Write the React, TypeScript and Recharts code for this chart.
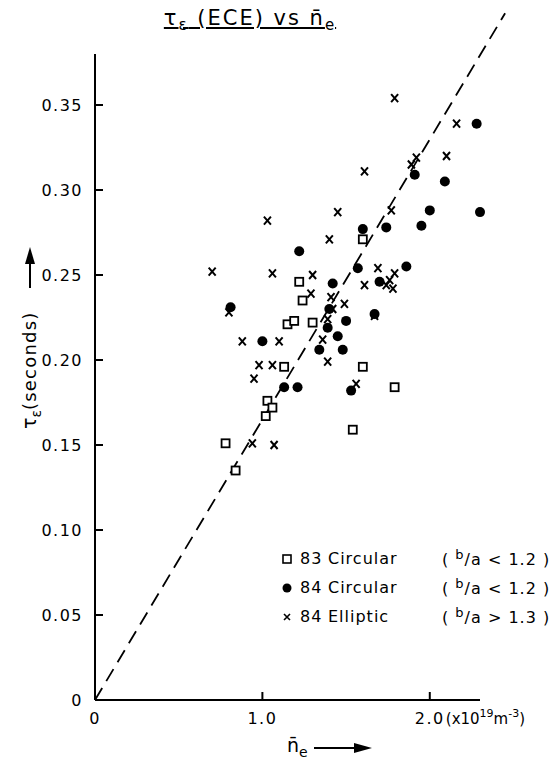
import React from 'react';
import { ScatterChart, Scatter, XAxis, YAxis, ReferenceLine, Legend } from 'recharts';

// axis ticks
const xTicks = [0, 1, 2];
const xTickLabels = ['0', '1.0', '2.0'];
const yTicks = [0, 0.05, 0.1, 0.15, 0.2, 0.25, 0.3, 0.35];
const yTickLabels = ['0', '0.05', '0.10', '0.15', '0.20', '0.25', '0.30', '0.35'];

// 83 Circular (b/a < 1.2)
const circ83N = [1.15, 1.19, 1.3, 1.22, 1.24, 1.6, 1.13, 1.6, 1.79, 1.03, 1.06, 1.02, 1.54, 0.78, 0.84];
const circ83Tau = [0.221, 0.223, 0.222, 0.246, 0.235, 0.271, 0.196, 0.196, 0.184, 0.176, 0.172, 0.167, 0.159, 0.151, 0.135];

// 84 Circular (b/a < 1.2)
const circ84N = [0.81, 1.0, 1.22, 1.57, 1.42, 1.4, 1.67, 1.5, 1.39, 1.45, 1.34, 1.48, 1.13, 1.21, 1.53, 1.6, 1.74, 1.95, 2.0, 2.3, 2.09, 1.91, 2.28, 1.86, 1.7];
const circ84Tau = [0.231, 0.211, 0.264, 0.254, 0.245, 0.23, 0.227, 0.223, 0.219, 0.214, 0.206, 0.206, 0.184, 0.184, 0.182, 0.277, 0.278, 0.279, 0.288, 0.287, 0.305, 0.309, 0.339, 0.255, 0.246];

// 84 Elliptic (b/a > 1.3)
const ell84N = [1.79, 2.16, 2.1, 1.92, 1.89, 1.61, 1.77, 1.45, 1.03, 1.4, 0.7, 1.06, 1.3, 1.69, 1.79, 1.76, 1.74, 1.78, 1.61, 1.29, 1.41, 1.49, 1.42, 0.8, 1.67, 1.39, 0.88, 1.1, 1.36, 1.39, 0.98, 1.06, 0.95, 1.56, 0.94, 1.07];
const ell84Tau = [0.354, 0.339, 0.32, 0.319, 0.315, 0.311, 0.288, 0.287, 0.282, 0.271, 0.252, 0.251, 0.25, 0.254, 0.251, 0.247, 0.244, 0.242, 0.244, 0.239, 0.237, 0.233, 0.23, 0.228, 0.226, 0.224, 0.211, 0.211, 0.212, 0.199, 0.197, 0.197, 0.189, 0.186, 0.151, 0.15];

// dashed guide line through the origin
const fitN = [0, 2.45];
const fitTau = [0, 0.404];

// legend text
const seriesCodes = ['83', '84', '84'];
const seriesNames = ['Circular', 'Circular', 'Elliptic'];
const seriesSigns = ['<', '<', '>'];
const seriesRatios = ['1.2', '1.2', '1.3'];

const zip = (n: number[], t: number[]) => n.map((v, i) => ({ n: v, t: t[i] }));

const FONT = '"DejaVu Sans", sans-serif';

const SquareMark = ({ cx, cy }: any) => (
  <rect x={cx - 4} y={cy - 4} width={8} height={8} fill="#fff" stroke="#000" strokeWidth={1.8} />
);
const DotMark = ({ cx, cy }: any) => <circle cx={cx} cy={cy} r={5} fill="#000" />;
const CrossMark = ({ cx, cy }: any) => (
  <path
    d={`M${cx - 3.5},${cy - 4}L${cx + 3.5},${cy + 4}M${cx + 3.5},${cy - 4}L${cx - 3.5},${cy + 4}`}
    stroke="#000"
    strokeWidth={2}
    fill="none"
  />
);

const YTick = ({ x, y, payload }: any) => {
  const i = yTicks.indexOf(payload.value);
  return (
    <g>
      {payload.value !== 0 && (
        <line x1={x + 10} x2={x + 18} y1={y} y2={y} stroke="#000" strokeWidth={2} />
      )}
      <text x={x - 2} y={y} dy={6} textAnchor="end" fontSize={16} letterSpacing={1.5} fill="#000" fontFamily={FONT}>
        {yTickLabels[i]}
      </text>
    </g>
  );
};

const XTick = ({ x, y, payload }: any) => {
  const i = xTicks.indexOf(payload.value);
  return (
    <g>
      {payload.value !== 0 && (
        <line x1={x} x2={x} y1={y - 10} y2={y - 18} stroke="#000" strokeWidth={2} />
      )}
      <text x={x} y={y} dy={14} textAnchor="middle" fontSize={16} letterSpacing={1.5} fill="#000" fontFamily={FONT}>
        {xTickLabels[i]}
      </text>
      {i === xTicks.length - 1 && (
        <text x={x + 16} y={y} dy={14} fontSize={15} fill="#000" fontFamily={FONT}>
          (x10
          <tspan dy={-7} fontSize={11}>19</tspan>
          <tspan dy={7}>m</tspan>
          <tspan dy={-7} fontSize={11}>-3</tspan>
          <tspan dy={7}>)</tspan>
        </text>
      )}
    </g>
  );
};

const YLabel = () => (
  <g transform="translate(30, 338) rotate(-90)" fontFamily={FONT}>
    <text x={-91} y={6} fontSize={19} fill="#000">
      τ<tspan fontSize={14} dy={5}>ε</tspan>
      <tspan dy={-5} fontSize={18} letterSpacing={1.2}>(seconds)</tspan>
    </text>
    <line x1={50} x2={76} y1={0} y2={0} stroke="#000" strokeWidth={2} />
    <polygon points="74,-5 91,0 74,5" fill="#000" />
  </g>
);

const XLabel = () => (
  <g fontFamily={FONT}>
    <text x={287} y={752} fontSize={19} fill="#000">
      n̄<tspan dy={5} fontSize={14}>e</tspan>
    </text>
    <line x1={314} x2={356} y1={748} y2={748} stroke="#000" strokeWidth={2} />
    <polygon points="354,743 372,748 354,753" fill="#000" />
  </g>
);

const legendMarks = [
  <rect key="s" x={6} y={3} width={8} height={8} fill="#fff" stroke="#000" strokeWidth={1.6} />,
  <circle key="c" cx={10} cy={7} r={4.5} fill="#000" />,
  <path key="x" d="M7,4L13,10M13,4L7,10" stroke="#000" strokeWidth={1.6} />,
];

const LegendBox = () => (
  <div style={{ fontFamily: FONT, fontSize: 16, letterSpacing: 1, color: '#000' }}>
    {seriesNames.map((name, i) => (
      <div key={i} style={{ display: 'flex', alignItems: 'center', height: 29 }}>
        <svg width={20} height={14}>{legendMarks[i]}</svg>
        <span style={{ width: 28, marginLeft: 3 }}>{seriesCodes[i]}</span>
        <span style={{ width: 114 }}>{name}</span>
        <span>
          ( <sup style={{ fontSize: 13 }}>b</sup>/a {seriesSigns[i]} {seriesRatios[i]} )
        </span>
      </div>
    ))}
  </div>
);

export default function App() {
  return (
    <div style={{ position: 'absolute', left: 0, top: 0, width: 551, height: 767, background: '#fff', fontFamily: FONT }}>
      <div
        style={{
          position: 'absolute',
          left: 0,
          top: 6,
          width: 500,
          textAlign: 'center',
          fontSize: 21,
          letterSpacing: 2,
          textDecoration: 'underline',
          zIndex: 2,
        }}
      >
        τ<sub style={{ fontSize: 15 }}>ε</sub> (ECE) vs n̄<sub style={{ fontSize: 15 }}>e</sub>
      </div>
      <ScatterChart width={551} height={767} margin={{ top: 54, right: 71, bottom: 27, left: 0 }}>
        <XAxis
          type="number"
          dataKey="n"
          domain={[0, 2.3]}
          ticks={xTicks}
          tick={<XTick />}
          tickSize={0}
          tickMargin={10}
          tickLine={false}
          axisLine={{ stroke: '#000', strokeWidth: 2 }}
          height={40}
          label={{ content: <XLabel /> }}
        />
        <YAxis
          type="number"
          dataKey="t"
          domain={[0, 0.38]}
          ticks={yTicks}
          tick={<YTick />}
          tickSize={0}
          tickMargin={10}
          tickLine={false}
          axisLine={{ stroke: '#000', strokeWidth: 2 }}
          width={95}
          label={{ content: <YLabel /> }}
        />
        <ReferenceLine
          segment={[
            { x: fitN[0], y: fitTau[0] },
            { x: fitN[1], y: fitTau[1] },
          ]}
          ifOverflow="visible"
          stroke="#000"
          strokeWidth={1.8}
          strokeDasharray="14 8"
        />
        <Scatter data={zip(ell84N, ell84Tau)} shape={<CrossMark />} isAnimationActive={false} />
        <Scatter data={zip(circ84N, circ84Tau)} shape={<DotMark />} isAnimationActive={false} />
        <Scatter data={zip(circ83N, circ83Tau)} shape={<SquareMark />} isAnimationActive={false} />
        <Legend
          layout="horizontal"
          verticalAlign="middle"
          align="center"
          content={<LegendBox />}
          wrapperStyle={{ left: 277, top: 544, width: 280 }}
        />
      </ScatterChart>
    </div>
  );
}
